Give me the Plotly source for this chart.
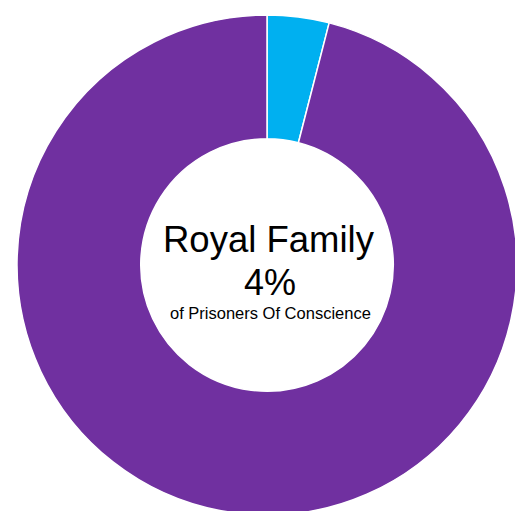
import plotly.graph_objects as go

labels = ["Royal Family", "Other"]
values = [4, 96]
colors = ["#00B0F0", "#7030A0"]
title_text = "Royal Family"
pct_text = "4%"
sub_text = "of Prisoners Of Conscience"

W, H = 540, 540
cx, cy, R = 267, 265, 250

fig = go.Figure(go.Pie(
    labels=labels, values=values, hole=0.505, sort=False,
    direction="clockwise", rotation=0,
    marker=dict(colors=colors, line=dict(color="white", width=1.5)),
    textinfo="none", hoverinfo="label+percent", showlegend=False,
    domain=dict(x=[(cx - R) / W, (cx + R) / W], y=[1 - (cy + R) / H, 1 - (cy - R) / H]),
))

def px(x):
    return x / W

def py(y):
    return 1 - y / H

font = "Liberation Sans, Arial, sans-serif"
fig.add_annotation(x=px(cx + 2), y=py(239), xref="paper", yref="paper", text=title_text,
                   showarrow=False, yanchor="middle", font=dict(family=font, size=36.5, color="black"))
fig.add_annotation(x=px(cx + 3), y=py(282), xref="paper", yref="paper", text=pct_text,
                   showarrow=False, yanchor="middle", font=dict(family=font, size=36, color="black"))
fig.add_annotation(x=px(cx + 3), y=py(313), xref="paper", yref="paper", text=sub_text,
                   showarrow=False, yanchor="middle", font=dict(family=font, size=16.5, color="black"))

fig.update_layout(width=W, height=H, margin=dict(l=0, r=0, t=0, b=0),
                  paper_bgcolor="white", plot_bgcolor="white")

fig.write_html("out.html", config={"displayModeBar": False},
               post_script="document.body.style.margin='0';document.body.style.overflow='hidden';document.documentElement.style.overflow='hidden';")
